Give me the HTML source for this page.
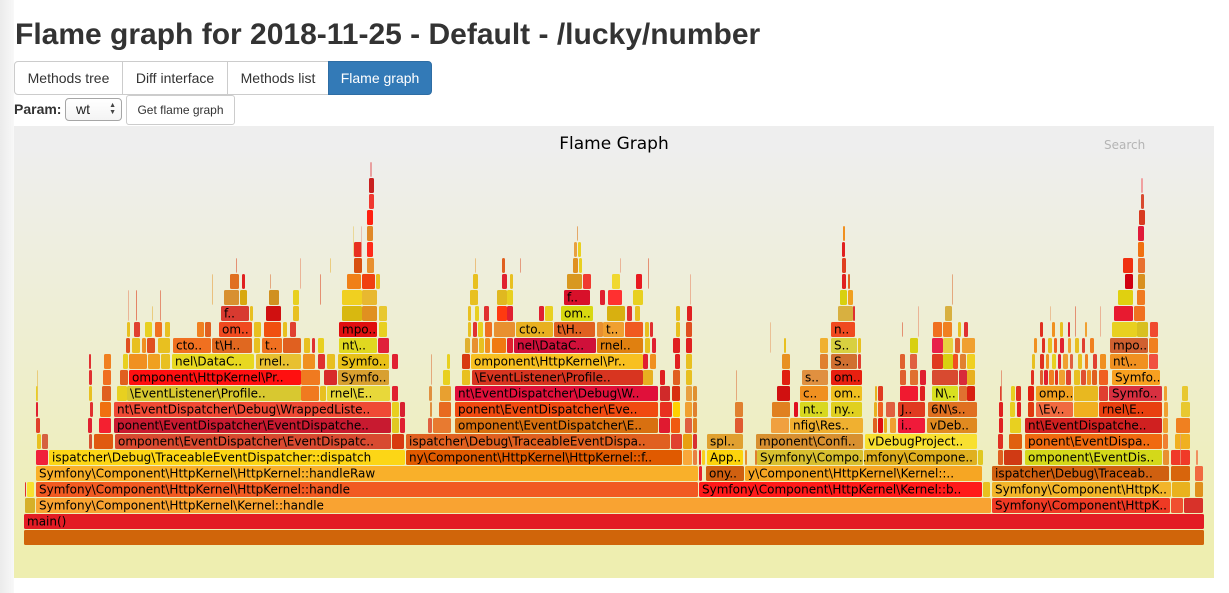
<!DOCTYPE html>
<html><head><meta charset="utf-8">
<style>
html,body{margin:0;padding:0;background:#fff;}
body{width:1229px;height:593px;overflow:hidden;position:relative;font-family:"Liberation Sans",Arial,sans-serif;color:#333;}
.abs{position:absolute;}
h1{position:absolute;left:15px;top:20px;margin:0;font-size:30px;line-height:30px;font-weight:bold;color:#333;white-space:nowrap;}
.btn{position:absolute;box-sizing:border-box;border:1px solid #ccc;background:#fff;font-size:14px;color:#333;display:flex;align-items:center;justify-content:center;white-space:nowrap;}
svg rect{rx:1.5px;ry:1.5px;}
svg text{font-family:"DejaVu Sans",Verdana,sans-serif;font-size:12px;fill:#000;}
.t rect{opacity:.75}
</style></head><body>
<div class="abs" style="left:0;top:0;width:14px;height:593px;background:linear-gradient(to right,#ebebeb,#f4f4f4 10px,#f8f8f8);"></div>
<svg class="abs" style="left:0;top:0" width="1229" height="593" viewBox="0 0 1229 593">
<defs><linearGradient id="bg" x1="0" y1="0" x2="0" y2="1"><stop offset="0.05" stop-color="#eeeeee"/><stop offset="0.95" stop-color="#eeeeb0"/></linearGradient></defs>
<rect x="14" y="126" width="1200" height="452" fill="url(#bg)" style="rx:0;ry:0"/>
<text x="614" y="149" text-anchor="middle" style="font-size:17px">Flame Graph</text>
<text x="1104" y="149" style="fill:#b4b4b4">Search</text>
<g>
<!-- row 0 -->
<rect x="24" y="530" width="1180" height="15" fill="#d0650a"/>
<!-- row 1 -->
<rect x="24" y="514" width="1180" height="15" fill="#e31c24"/>
<!-- row 2 -->
<rect x="25" y="498" width="10" height="15" fill="#d6b028"/>
<rect x="36" y="498" width="955" height="15" fill="#f9a332"/>
<rect x="992" y="498" width="178" height="15" fill="#ef3a24"/>
<rect x="1171" y="498" width="12" height="15" fill="#f05030"/>
<rect x="1184" y="498" width="19" height="15" fill="#d8322a"/>
<!-- row 3 -->
<rect x="25" y="482" width="1" height="15" fill="#e03030"/>
<rect x="27" y="482" width="7" height="15" fill="#f8e030"/>
<rect x="36" y="482" width="662" height="15" fill="#f15a22"/>
<rect x="699" y="482" width="283" height="15" fill="#ff1a1a"/>
<rect x="983" y="482" width="7" height="15" fill="#e8c020"/>
<rect x="992" y="482" width="179" height="15" fill="#f2b52a"/>
<rect x="1172" y="482" width="18" height="15" fill="#e9b21e"/>
<rect x="1195" y="482" width="8" height="15" fill="#e0901c"/>
<!-- row 4 -->
<rect x="36" y="466" width="662" height="15" fill="#f9b02a"/>
<rect x="699" y="466" width="3" height="15" fill="#e82030"/>
<rect x="706" y="466" width="38" height="15" fill="#d06010"/>
<rect x="745" y="466" width="237" height="15" fill="#f6a623"/>
<rect x="992" y="466" width="177" height="15" fill="#d06010"/>
<rect x="1171" y="466" width="19" height="15" fill="#d8650c"/>
<rect x="1195" y="466" width="8" height="15" fill="#f06a40"/>
<!-- row 5 -->
<rect x="36" y="450" width="12" height="15" fill="#f0203a"/>
<rect x="49" y="450" width="356" height="15" fill="#fcd616"/>
<rect x="406" y="450" width="276" height="15" fill="#e05a00"/>
<rect x="683" y="450" width="9" height="15" fill="#f9a83a"/>
<rect x="693" y="450" width="4" height="15" fill="#e88040"/>
<rect x="699" y="450" width="2" height="15" fill="#e82030"/>
<rect x="702" y="450" width="3" height="15" fill="#f8d020"/>
<rect x="707" y="450" width="36" height="15" fill="#fcd40c"/>
<rect x="745" y="450" width="2" height="15" fill="#e89030"/>
<rect x="755" y="450" width="2" height="15" fill="#e08030"/>
<rect x="757" y="450" width="106" height="15" fill="#d8c030"/>
<rect x="864" y="450" width="113" height="15" fill="#e0b020"/>
<rect x="978" y="450" width="5" height="15" fill="#e0c820"/>
<rect x="998" y="450" width="5" height="15" fill="#e06020"/>
<rect x="1004" y="450" width="18" height="15" fill="#d03a14"/>
<rect x="1025" y="450" width="137" height="15" fill="#d4d81a"/>
<rect x="1163" y="450" width="6" height="15" fill="#e89030"/>
<rect x="1171" y="450" width="19" height="15" fill="#f03a28"/>
<rect x="1196" y="450" width="2" height="15" fill="#f09060"/>
<!-- row 6 -->
<rect x="37" y="434" width="4" height="15" fill="#e8c020"/>
<rect x="42" y="434" width="6" height="15" fill="#d66040"/>
<rect x="89" y="434" width="3" height="15" fill="#d65030"/>
<rect x="94" y="434" width="19" height="15" fill="#e05a10"/>
<rect x="115" y="434" width="276" height="15" fill="#d84a30"/>
<rect x="392" y="434" width="12" height="15" fill="#d83a10"/>
<rect x="406" y="434" width="264" height="15" fill="#e06020"/>
<rect x="671" y="434" width="11" height="15" fill="#e04030"/>
<rect x="683" y="434" width="9" height="15" fill="#e8a010"/>
<rect x="693" y="434" width="4" height="15" fill="#d83030"/>
<rect x="707" y="434" width="36" height="15" fill="#e0a030"/>
<rect x="756" y="434" width="107" height="15" fill="#d89030"/>
<rect x="865" y="434" width="112" height="15" fill="#f8e030"/>
<rect x="998" y="434" width="5" height="15" fill="#e03020"/>
<rect x="1009" y="434" width="13" height="15" fill="#e06010"/>
<rect x="1025" y="434" width="137" height="15" fill="#f06a10"/>
<rect x="1163" y="434" width="5" height="15" fill="#f08030"/>
<rect x="1175" y="434" width="15" height="15" fill="#f0b020"/>
<!-- row 7 -->
<rect x="36" y="418" width="4" height="15" fill="#e0402a"/>
<rect x="88" y="418" width="4" height="15" fill="#e02030"/>
<rect x="99" y="418" width="12" height="15" fill="#f42030"/>
<rect x="114" y="418" width="277" height="15" fill="#c81a30"/>
<rect x="392" y="418" width="7" height="15" fill="#e0c820"/>
<rect x="400" y="418" width="5" height="15" fill="#e02030"/>
<rect x="428" y="418" width="4" height="15" fill="#e06040"/>
<rect x="433" y="418" width="18" height="15" fill="#e87a30"/>
<rect x="455" y="418" width="203" height="15" fill="#d87010"/>
<rect x="659" y="418" width="11" height="15" fill="#e01a30"/>
<rect x="671" y="418" width="9" height="15" fill="#f05a10"/>
<rect x="685" y="418" width="7" height="15" fill="#e06040"/>
<rect x="693" y="418" width="4" height="15" fill="#e08020"/>
<rect x="735" y="418" width="8" height="15" fill="#e05a30"/>
<rect x="771" y="418" width="18" height="15" fill="#f0a040"/>
<rect x="790" y="418" width="73" height="15" fill="#f0b030"/>
<rect x="873" y="418" width="4" height="15" fill="#e06020"/>
<rect x="878" y="418" width="5" height="15" fill="#e01010"/>
<rect x="884" y="418" width="3" height="15" fill="#e8b020"/>
<rect x="890" y="418" width="6" height="15" fill="#f0a030"/>
<rect x="898" y="418" width="27" height="15" fill="#f01a3a"/>
<rect x="927" y="418" width="50" height="15" fill="#e08a20"/>
<rect x="999" y="418" width="4" height="15" fill="#e02020"/>
<rect x="1010" y="418" width="11" height="15" fill="#e8d020"/>
<rect x="1025" y="418" width="137" height="15" fill="#d02020"/>
<rect x="1163" y="418" width="5" height="15" fill="#f0a030"/>
<rect x="1176" y="418" width="14" height="15" fill="#f08020"/>
<!-- row 8 -->
<rect x="36" y="402" width="2" height="15" fill="#e02030"/>
<rect x="90" y="402" width="3" height="15" fill="#e03030"/>
<rect x="100" y="402" width="11" height="15" fill="#f07010"/>
<rect x="114" y="402" width="277" height="15" fill="#ef4a35"/>
<rect x="392" y="402" width="7" height="15" fill="#e8d020"/>
<rect x="400" y="402" width="5" height="15" fill="#d82030"/>
<rect x="430" y="402" width="2" height="15" fill="#e09040"/>
<rect x="439" y="402" width="12" height="15" fill="#e86a20"/>
<rect x="455" y="402" width="203" height="15" fill="#f04a10"/>
<rect x="660" y="402" width="12" height="15" fill="#e83020"/>
<rect x="673" y="402" width="7" height="15" fill="#ffd000"/>
<rect x="685" y="402" width="7" height="15" fill="#f0a030"/>
<rect x="693" y="402" width="4" height="15" fill="#e08030"/>
<rect x="735" y="402" width="8" height="15" fill="#e08030"/>
<rect x="772" y="402" width="18" height="15" fill="#e08020"/>
<rect x="794" y="402" width="4" height="15" fill="#e01020"/>
<rect x="800" y="402" width="28" height="15" fill="#d8d820"/>
<rect x="831" y="402" width="31" height="15" fill="#e0d020"/>
<rect x="874" y="402" width="3" height="15" fill="#e8b020"/>
<rect x="878" y="402" width="5" height="15" fill="#f06020"/>
<rect x="886" y="402" width="9" height="15" fill="#e06040"/>
<rect x="898" y="402" width="27" height="15" fill="#e03a20"/>
<rect x="928" y="402" width="49" height="15" fill="#e07020"/>
<rect x="999" y="402" width="4" height="15" fill="#e02020"/>
<rect x="1010" y="402" width="5" height="15" fill="#e8d020"/>
<rect x="1017" y="402" width="4" height="15" fill="#e02020"/>
<rect x="1028" y="402" width="6" height="15" fill="#e03a10"/>
<rect x="1036" y="402" width="37" height="15" fill="#f06a40"/>
<rect x="1074" y="402" width="24" height="15" fill="#f0b020"/>
<rect x="1099" y="402" width="63" height="15" fill="#e84010"/>
<rect x="1164" y="402" width="4" height="15" fill="#f0a030"/>
<rect x="1181" y="402" width="9" height="15" fill="#e8c830"/>
<!-- row 9 -->
<rect x="36" y="386" width="2" height="15" fill="#e8d020"/>
<rect x="89" y="386" width="3" height="15" fill="#e8c020"/>
<rect x="102" y="386" width="9" height="15" fill="#e06020"/>
<rect x="117" y="386" width="10" height="15" fill="#e8d020"/>
<rect x="127" y="386" width="174" height="15" fill="#d8c830"/>
<rect x="301" y="386" width="18" height="15" fill="#f07a20"/>
<rect x="320" y="386" width="6" height="15" fill="#e8c020"/>
<rect x="327" y="386" width="63" height="15" fill="#e8d83a"/>
<rect x="392" y="386" width="6" height="15" fill="#e02030"/>
<rect x="429" y="386" width="3" height="15" fill="#e09040"/>
<rect x="440" y="386" width="11" height="15" fill="#e8a030"/>
<rect x="455" y="386" width="203" height="15" fill="#e0103a"/>
<rect x="660" y="386" width="10" height="15" fill="#d02a2a"/>
<rect x="672" y="386" width="8" height="15" fill="#d83010"/>
<rect x="686" y="386" width="6" height="15" fill="#e8a040"/>
<rect x="693" y="386" width="4" height="15" fill="#e09030"/>
<rect x="777" y="386" width="13" height="15" fill="#d01010"/>
<rect x="800" y="386" width="28" height="15" fill="#f09020"/>
<rect x="831" y="386" width="31" height="15" fill="#f0c020"/>
<rect x="875" y="386" width="2" height="15" fill="#e8b020"/>
<rect x="878" y="386" width="5" height="15" fill="#e03a20"/>
<rect x="900" y="386" width="18" height="15" fill="#f01a30"/>
<rect x="920" y="386" width="5" height="15" fill="#e02020"/>
<rect x="932" y="386" width="26" height="15" fill="#d8e020"/>
<rect x="959" y="386" width="8" height="15" fill="#e07030"/>
<rect x="967" y="386" width="8" height="15" fill="#d82010"/>
<rect x="1000" y="386" width="2" height="15" fill="#e04030"/>
<rect x="1011" y="386" width="4" height="15" fill="#e8d020"/>
<rect x="1016" y="386" width="5" height="15" fill="#e03020"/>
<rect x="1028" y="386" width="6" height="15" fill="#e02010"/>
<rect x="1036" y="386" width="37" height="15" fill="#f0a020"/>
<rect x="1074" y="386" width="24" height="15" fill="#e8b820"/>
<rect x="1099" y="386" width="9" height="15" fill="#e04030"/>
<rect x="1109" y="386" width="53" height="15" fill="#d83040"/>
<rect x="1164" y="386" width="3" height="15" fill="#f0a030"/>
<rect x="1182" y="386" width="6" height="15" fill="#e8c830"/>
<!-- row 10 -->
<rect x="89" y="370" width="3" height="15" fill="#e03030"/>
<rect x="103" y="370" width="8" height="15" fill="#f07020"/>
<rect x="120" y="370" width="8" height="15" fill="#e06020"/>
<rect x="129" y="370" width="172" height="15" fill="#ff1010"/>
<rect x="301" y="370" width="19" height="15" fill="#f07a20"/>
<rect x="324" y="370" width="13" height="15" fill="#d82a2a"/>
<rect x="338" y="370" width="51" height="15" fill="#d8a030"/>
<rect x="443" y="370" width="7" height="15" fill="#e8d020"/>
<rect x="462" y="370" width="8" height="15" fill="#e8c020"/>
<rect x="472" y="370" width="171" height="15" fill="#d83520"/>
<rect x="643" y="370" width="10" height="15" fill="#e8b020"/>
<rect x="660" y="370" width="5" height="15" fill="#e02020"/>
<rect x="673" y="370" width="7" height="15" fill="#e06020"/>
<rect x="686" y="370" width="6" height="15" fill="#e8c020"/>
<rect x="782" y="370" width="8" height="15" fill="#e02010"/>
<rect x="802" y="370" width="26" height="15" fill="#e09040"/>
<rect x="831" y="370" width="31" height="15" fill="#e82010"/>
<rect x="900" y="370" width="6" height="15" fill="#e06030"/>
<rect x="910" y="370" width="8" height="15" fill="#e07030"/>
<rect x="920" y="370" width="6" height="15" fill="#e02030"/>
<rect x="932" y="370" width="26" height="15" fill="#d84a30"/>
<rect x="959" y="370" width="8" height="15" fill="#d82a3a"/>
<rect x="967" y="370" width="8" height="15" fill="#e8b020"/>
<rect x="1031" y="370" width="3" height="15" fill="#e03020"/>
<rect x="1040" y="370" width="3" height="15" fill="#e06030"/>
<rect x="1044" y="370" width="4" height="15" fill="#e02030"/>
<rect x="1049" y="370" width="5" height="15" fill="#f08020"/>
<rect x="1055" y="370" width="3" height="15" fill="#e03020"/>
<rect x="1059" y="370" width="6" height="15" fill="#f0a030"/>
<rect x="1066" y="370" width="5" height="15" fill="#e04030"/>
<rect x="1074" y="370" width="6" height="15" fill="#e8c020"/>
<rect x="1081" y="370" width="5" height="15" fill="#e05030"/>
<rect x="1087" y="370" width="4" height="15" fill="#f09020"/>
<rect x="1092" y="370" width="5" height="15" fill="#e06020"/>
<rect x="1099" y="370" width="9" height="15" fill="#f06020"/>
<rect x="1112" y="370" width="48" height="15" fill="#f8a020"/>
<!-- row 11 -->
<rect x="89" y="354" width="2" height="15" fill="#e03030"/>
<rect x="104" y="354" width="7" height="15" fill="#f08020"/>
<rect x="123" y="354" width="5" height="15" fill="#e8d020"/>
<rect x="129" y="354" width="18" height="15" fill="#f09020"/>
<rect x="148" y="354" width="12" height="15" fill="#f0a020"/>
<rect x="161" y="354" width="9" height="15" fill="#e8c020"/>
<rect x="172" y="354" width="82" height="15" fill="#e8d820"/>
<rect x="256" y="354" width="45" height="15" fill="#e8c030"/>
<rect x="303" y="354" width="12" height="15" fill="#f09020"/>
<rect x="318" y="354" width="7" height="15" fill="#e03030"/>
<rect x="327" y="354" width="8" height="15" fill="#e8c020"/>
<rect x="338" y="354" width="51" height="15" fill="#e8c018"/>
<rect x="392" y="354" width="6" height="15" fill="#e02030"/>
<rect x="447" y="354" width="3" height="15" fill="#e8d020"/>
<rect x="462" y="354" width="8" height="15" fill="#d83a10"/>
<rect x="471" y="354" width="172" height="15" fill="#f8c020"/>
<rect x="643" y="354" width="5" height="15" fill="#e02030"/>
<rect x="650" y="354" width="6" height="15" fill="#f09020"/>
<rect x="675" y="354" width="5" height="15" fill="#e02020"/>
<rect x="686" y="354" width="6" height="15" fill="#e8c020"/>
<rect x="782" y="354" width="8" height="15" fill="#e89020"/>
<rect x="820" y="354" width="8" height="15" fill="#e08030"/>
<rect x="831" y="354" width="26" height="15" fill="#d07030"/>
<rect x="858" y="354" width="3" height="15" fill="#e04030"/>
<rect x="900" y="354" width="5" height="15" fill="#e06030"/>
<rect x="910" y="354" width="7" height="15" fill="#e06040"/>
<rect x="932" y="354" width="11" height="15" fill="#e03a20"/>
<rect x="943" y="354" width="10" height="15" fill="#d8d010"/>
<rect x="953" y="354" width="5" height="15" fill="#f05020"/>
<rect x="960" y="354" width="6" height="15" fill="#e08030"/>
<rect x="967" y="354" width="8" height="15" fill="#f0d020"/>
<rect x="1032" y="354" width="3" height="15" fill="#e8c020"/>
<rect x="1040" y="354" width="4" height="15" fill="#e03020"/>
<rect x="1046" y="354" width="3" height="15" fill="#f09020"/>
<rect x="1052" y="354" width="4" height="15" fill="#e8d020"/>
<rect x="1058" y="354" width="3" height="15" fill="#e02030"/>
<rect x="1063" y="354" width="5" height="15" fill="#f0a030"/>
<rect x="1070" y="354" width="3" height="15" fill="#e06040"/>
<rect x="1078" y="354" width="4" height="15" fill="#e8c020"/>
<rect x="1085" y="354" width="3" height="15" fill="#f08020"/>
<rect x="1093" y="354" width="4" height="15" fill="#e04030"/>
<rect x="1100" y="354" width="6" height="15" fill="#f09020"/>
<rect x="1110" y="354" width="38" height="15" fill="#f09020"/>
<rect x="1149" y="354" width="9" height="15" fill="#f05040"/>
<!-- row 12 -->
<rect x="126" y="338" width="4" height="15" fill="#e05020"/>
<rect x="132" y="338" width="8" height="15" fill="#e8c020"/>
<rect x="142" y="338" width="4" height="15" fill="#f09020"/>
<rect x="147" y="338" width="8" height="15" fill="#e05020"/>
<rect x="158" y="338" width="12" height="15" fill="#e8c020"/>
<rect x="173" y="338" width="38" height="15" fill="#f07020"/>
<rect x="212" y="338" width="40" height="15" fill="#e06820"/>
<rect x="254" y="338" width="6" height="15" fill="#e8c020"/>
<rect x="262" y="338" width="20" height="15" fill="#f07020"/>
<rect x="283" y="338" width="18" height="15" fill="#e06020"/>
<rect x="304" y="338" width="6" height="15" fill="#e8c020"/>
<rect x="312" y="338" width="3" height="15" fill="#e03030"/>
<rect x="318" y="338" width="6" height="15" fill="#e8d020"/>
<rect x="339" y="338" width="38" height="15" fill="#e0d820"/>
<rect x="378" y="338" width="11" height="15" fill="#e0203a"/>
<rect x="465" y="338" width="5" height="15" fill="#e0b030"/>
<rect x="472" y="338" width="6" height="15" fill="#e89030"/>
<rect x="479" y="338" width="5" height="15" fill="#e8c020"/>
<rect x="485" y="338" width="5" height="15" fill="#f09020"/>
<rect x="492" y="338" width="14" height="15" fill="#f07a10"/>
<rect x="507" y="338" width="6" height="15" fill="#e02030"/>
<rect x="514" y="338" width="82" height="15" fill="#d0103a"/>
<rect x="597" y="338" width="46" height="15" fill="#e08010"/>
<rect x="645" y="338" width="5" height="15" fill="#e8c020"/>
<rect x="652" y="338" width="4" height="15" fill="#e02030"/>
<rect x="673" y="338" width="7" height="15" fill="#e02020"/>
<rect x="686" y="338" width="6" height="15" fill="#e02020"/>
<rect x="784" y="338" width="2" height="15" fill="#e8c020"/>
<rect x="820" y="338" width="8" height="15" fill="#f0b030"/>
<rect x="831" y="338" width="26" height="15" fill="#d8d040"/>
<rect x="858" y="338" width="3" height="15" fill="#e8c020"/>
<rect x="910" y="338" width="8" height="15" fill="#d8d010"/>
<rect x="932" y="338" width="11" height="15" fill="#e8204a"/>
<rect x="943" y="338" width="10" height="15" fill="#e8d040"/>
<rect x="955" y="338" width="5" height="15" fill="#e06030"/>
<rect x="962" y="338" width="13" height="15" fill="#f0a030"/>
<rect x="1034" y="338" width="3" height="15" fill="#f09020"/>
<rect x="1042" y="338" width="3" height="15" fill="#e03020"/>
<rect x="1048" y="338" width="4" height="15" fill="#e8c020"/>
<rect x="1054" y="338" width="3" height="15" fill="#f06020"/>
<rect x="1060" y="338" width="4" height="15" fill="#e02030"/>
<rect x="1068" y="338" width="3" height="15" fill="#f0a030"/>
<rect x="1075" y="338" width="4" height="15" fill="#e8c020"/>
<rect x="1082" y="338" width="3" height="15" fill="#e04030"/>
<rect x="1090" y="338" width="4" height="15" fill="#f08020"/>
<rect x="1110" y="338" width="38" height="15" fill="#d06030"/>
<rect x="1149" y="338" width="9" height="15" fill="#f08020"/>
<!-- row 13 -->
<rect x="127" y="322" width="3" height="15" fill="#e8c020"/>
<rect x="134" y="322" width="6" height="15" fill="#e04030"/>
<rect x="145" y="322" width="7" height="15" fill="#e8d020"/>
<rect x="155" y="322" width="7" height="15" fill="#f07020"/>
<rect x="165" y="322" width="5" height="15" fill="#e8c020"/>
<rect x="197" y="322" width="7" height="15" fill="#f08020"/>
<rect x="205" y="322" width="6" height="15" fill="#e06020"/>
<rect x="219" y="322" width="33" height="15" fill="#f04a20"/>
<rect x="254" y="322" width="7" height="15" fill="#e8c020"/>
<rect x="264" y="322" width="17" height="15" fill="#f05010"/>
<rect x="283" y="322" width="4" height="15" fill="#e8c020"/>
<rect x="290" y="322" width="6" height="15" fill="#e04030"/>
<rect x="339" y="322" width="38" height="15" fill="#e00e10"/>
<rect x="379" y="322" width="8" height="15" fill="#e8d020"/>
<rect x="468" y="322" width="3" height="15" fill="#e8c020"/>
<rect x="473" y="322" width="4" height="15" fill="#e03030"/>
<rect x="478" y="322" width="5" height="15" fill="#e8d020"/>
<rect x="485" y="322" width="7" height="15" fill="#f07020"/>
<rect x="494" y="322" width="21" height="15" fill="#e89030"/>
<rect x="516" y="322" width="37" height="15" fill="#e8b020"/>
<rect x="554" y="322" width="41" height="15" fill="#e06020"/>
<rect x="597" y="322" width="6" height="15" fill="#e89030"/>
<rect x="603" y="322" width="21" height="15" fill="#f0a030"/>
<rect x="625" y="322" width="18" height="15" fill="#f05a20"/>
<rect x="645" y="322" width="4" height="15" fill="#e8c020"/>
<rect x="650" y="322" width="3" height="15" fill="#e03030"/>
<rect x="676" y="322" width="4" height="15" fill="#e8c020"/>
<rect x="686" y="322" width="6" height="15" fill="#e05020"/>
<rect x="831" y="322" width="24" height="15" fill="#f04a20"/>
<rect x="933" y="322" width="9" height="15" fill="#f07020"/>
<rect x="943" y="322" width="9" height="15" fill="#f08020"/>
<rect x="958" y="322" width="3" height="15" fill="#e8c020"/>
<rect x="964" y="322" width="4" height="15" fill="#e03030"/>
<rect x="1040" y="322" width="3" height="15" fill="#e03020"/>
<rect x="1052" y="322" width="3" height="15" fill="#f09020"/>
<rect x="1060" y="322" width="3" height="15" fill="#e8c020"/>
<rect x="1068" y="322" width="2" height="15" fill="#e02030"/>
<rect x="1085" y="322" width="2" height="15" fill="#f0a030"/>
<rect x="1112" y="322" width="25" height="15" fill="#e8d020"/>
<rect x="1137" y="322" width="11" height="15" fill="#d8c020"/>
<rect x="1150" y="322" width="8" height="15" fill="#f04a30"/>
<!-- row 14 -->
<rect x="221" y="306" width="28" height="15" fill="#d83a30"/>
<rect x="250" y="306" width="3" height="15" fill="#e8c020"/>
<rect x="266" y="306" width="15" height="15" fill="#d01010"/>
<rect x="293" y="306" width="6" height="15" fill="#e8c020"/>
<rect x="342" y="306" width="20" height="15" fill="#d8b810"/>
<rect x="362" y="306" width="15" height="15" fill="#e09020"/>
<rect x="379" y="306" width="8" height="15" fill="#e8c830"/>
<rect x="468" y="306" width="3" height="15" fill="#e8c020"/>
<rect x="475" y="306" width="4" height="15" fill="#e8d020"/>
<rect x="484" y="306" width="5" height="15" fill="#e03030"/>
<rect x="497" y="306" width="10" height="15" fill="#ff3a10"/>
<rect x="507" y="306" width="6" height="15" fill="#e02030"/>
<rect x="539" y="306" width="5" height="15" fill="#e02030"/>
<rect x="545" y="306" width="8" height="15" fill="#e8d020"/>
<rect x="561" y="306" width="32" height="15" fill="#d8d810"/>
<rect x="607" y="306" width="18" height="15" fill="#d8b010"/>
<rect x="627" y="306" width="5" height="15" fill="#e03030"/>
<rect x="635" y="306" width="5" height="15" fill="#e8c020"/>
<rect x="676" y="306" width="4" height="15" fill="#e8c020"/>
<rect x="687" y="306" width="5" height="15" fill="#e02020"/>
<rect x="838" y="306" width="15" height="15" fill="#d8b040"/>
<rect x="853" y="306" width="2" height="15" fill="#e03030"/>
<rect x="945" y="306" width="7" height="15" fill="#d8b040"/>
<rect x="1114" y="306" width="19" height="15" fill="#e81a30"/>
<rect x="1134" y="306" width="11" height="15" fill="#f07020"/>
<!-- row 15 -->
<rect x="224" y="290" width="15" height="15" fill="#d89030"/>
<rect x="240" y="290" width="7" height="15" fill="#d8a810"/>
<rect x="269" y="290" width="10" height="15" fill="#d09020"/>
<rect x="293" y="290" width="6" height="15" fill="#e8d020"/>
<rect x="342" y="290" width="20" height="15" fill="#f0d020"/>
<rect x="362" y="290" width="15" height="15" fill="#e8b830"/>
<rect x="470" y="290" width="8" height="15" fill="#e8c020"/>
<rect x="497" y="290" width="10" height="15" fill="#e0b820"/>
<rect x="507" y="290" width="6" height="15" fill="#e8d020"/>
<rect x="564" y="290" width="26" height="15" fill="#d8102a"/>
<rect x="600" y="290" width="5" height="15" fill="#e02030"/>
<rect x="608" y="290" width="14" height="15" fill="#ff3030"/>
<rect x="633" y="290" width="10" height="15" fill="#e8d020"/>
<rect x="840" y="290" width="7" height="15" fill="#d8d010"/>
<rect x="848" y="290" width="5" height="15" fill="#f0a020"/>
<rect x="1118" y="290" width="15" height="15" fill="#e0d010"/>
<rect x="1137" y="290" width="8" height="15" fill="#f07a20"/>
<!-- row 16 -->
<rect x="230" y="274" width="9" height="15" fill="#e07020"/>
<rect x="242" y="274" width="3" height="15" fill="#e02020"/>
<rect x="347" y="274" width="14" height="15" fill="#f08018"/>
<rect x="362" y="274" width="13" height="15" fill="#f04010"/>
<rect x="376" y="274" width="4" height="15" fill="#e8c020"/>
<rect x="473" y="274" width="5" height="15" fill="#e8c020"/>
<rect x="502" y="274" width="5" height="15" fill="#e02030"/>
<rect x="510" y="274" width="3" height="15" fill="#e8c020"/>
<rect x="567" y="274" width="15" height="15" fill="#d89820"/>
<rect x="583" y="274" width="8" height="15" fill="#f03a30"/>
<rect x="612" y="274" width="8" height="15" fill="#f0d830"/>
<rect x="636" y="274" width="6" height="15" fill="#e81a20"/>
<rect x="842" y="274" width="4" height="15" fill="#e02020"/>
<rect x="848" y="274" width="2" height="15" fill="#e06020"/>
<rect x="1125" y="274" width="8" height="15" fill="#d00010"/>
<rect x="1138" y="274" width="7" height="15" fill="#d89020"/>
<!-- row 17 -->
<rect x="354" y="258" width="8" height="15" fill="#d85010"/>
<rect x="367" y="258" width="7" height="15" fill="#e89030"/>
<rect x="502" y="258" width="3" height="15" fill="#e06020"/>
<rect x="573" y="258" width="5" height="15" fill="#e09020"/>
<rect x="579" y="258" width="3" height="15" fill="#e8d020"/>
<rect x="842" y="258" width="4" height="15" fill="#e04020"/>
<rect x="1123" y="258" width="10" height="15" fill="#f03010"/>
<rect x="1138" y="258" width="7" height="15" fill="#e87030"/>
<!-- row 18 -->
<rect x="354" y="242" width="8" height="15" fill="#e83020"/>
<rect x="367" y="242" width="6" height="15" fill="#ff2a1a"/>
<rect x="574" y="242" width="3" height="15" fill="#e8a040"/>
<rect x="578" y="242" width="3" height="15" fill="#e8d020"/>
<rect x="842" y="242" width="3" height="15" fill="#e02020"/>
<rect x="1138" y="242" width="6" height="15" fill="#f07010"/>
<!-- row 19+ -->
<rect x="367" y="226" width="6" height="15" fill="#e08828"/>
<rect x="843" y="226" width="2" height="15" fill="#f09020"/>
<rect x="1138" y="226" width="6" height="15" fill="#e01a3a"/>
<rect x="367" y="210" width="6" height="15" fill="#ff2010"/>
<rect x="1139" y="210" width="6" height="15" fill="#d83a20"/>
<rect x="369" y="194" width="5" height="15" fill="#f03830"/>
<rect x="1141" y="194" width="3" height="15" fill="#d84a30"/>
<rect x="369" y="178" width="5" height="15" fill="#c82020"/>
<rect x="1141" y="178" width="2" height="15" fill="#f0a0a0"/>
<rect x="370" y="162" width="2" height="15" fill="#e8a0a0"/>
</g>
<g class="t">
<rect x="37" y="370" width="1" height="31" fill="#e8c060"/>
<rect x="353" y="226" width="1" height="31" fill="#e8d080"/>
<rect x="361" y="226" width="1" height="31" fill="#e8b0a0"/>
<rect x="577" y="226" width="1" height="15" fill="#e09040"/>
<rect x="431" y="354" width="1" height="31" fill="#e09060"/>
<rect x="736" y="370" width="1" height="31" fill="#e09060"/>
<rect x="128" y="290" width="1" height="31" fill="#e8a080"/>
<rect x="136" y="290" width="1" height="31" fill="#e06040"/>
<rect x="152" y="306" width="1" height="15" fill="#e8c060"/>
<rect x="160" y="290" width="1" height="31" fill="#e07050"/>
<rect x="212" y="274" width="1" height="31" fill="#e8b060"/>
<rect x="236" y="258" width="1" height="15" fill="#e07050"/>
<rect x="270" y="274" width="1" height="15" fill="#e09060"/>
<rect x="300" y="258" width="1" height="31" fill="#e8a080"/>
<rect x="320" y="274" width="1" height="31" fill="#e07050"/>
<rect x="330" y="258" width="1" height="15" fill="#e8c060"/>
<rect x="475" y="258" width="1" height="15" fill="#e8b060"/>
<rect x="520" y="258" width="1" height="15" fill="#e08060"/>
<rect x="620" y="258" width="1" height="15" fill="#e8a080"/>
<rect x="648" y="258" width="1" height="31" fill="#e07050"/>
<rect x="690" y="274" width="1" height="31" fill="#e8a080"/>
<rect x="770" y="322" width="1" height="31" fill="#e8b080"/>
<rect x="952" y="274" width="1" height="31" fill="#e09060"/>
<rect x="918" y="306" width="1" height="31" fill="#e8a080"/>
<rect x="902" y="322" width="1" height="15" fill="#e07050"/>
<rect x="1001" y="370" width="1" height="31" fill="#e08060"/>
<rect x="1050" y="306" width="1" height="15" fill="#e8b080"/>
<rect x="1075" y="306" width="1" height="31" fill="#e07050"/>
<rect x="1100" y="306" width="1" height="31" fill="#e8a080"/>
<rect x="1180" y="434" width="1" height="31" fill="#e8a080"/>
</g>
<g>
<text x="27" y="525.5">main()</text>
<text x="39" y="509.5">Symfony\Component\HttpKernel\Kernel::handle</text>
<text x="995" y="509.5">Symfony\Component\HttpK..</text>
<text x="39" y="493.5">Symfony\Component\HttpKernel\HttpKernel::handle</text>
<text x="702" y="493.5">Symfony\Component\HttpKernel\Kernel::b..</text>
<text x="995" y="493.5">Symfony\Component\HttpK..</text>
<text x="39" y="477.5">Symfony\Component\HttpKernel\HttpKernel::handleRaw</text>
<text x="709" y="477.5">ony..</text>
<text x="748" y="477.5">y\Component\HttpKernel\Kernel::..</text>
<text x="995" y="477.5">ispatcher\Debug\Traceab..</text>
<text x="52" y="461.5">ispatcher\Debug\TraceableEventDispatcher::dispatch</text>
<text x="409" y="461.5">ny\Component\HttpKernel\HttpKernel::f..</text>
<text x="710" y="461.5">App..</text>
<text x="760" y="461.5">Symfony\Compo..</text>
<text x="866" y="461.5">mfony\Compone..</text>
<text x="1028" y="461.5">omponent\EventDis..</text>
<text x="118" y="445.5">omponent\EventDispatcher\EventDispatc..</text>
<text x="409" y="445.5">ispatcher\Debug\TraceableEventDispa..</text>
<text x="710" y="445.5">spl..</text>
<text x="759" y="445.5">mponent\Confi..</text>
<text x="868" y="445.5">vDebugProject..</text>
<text x="1028" y="445.5">ponent\EventDispa..</text>
<text x="117" y="429.5">ponent\EventDispatcher\EventDispatche..</text>
<text x="458" y="429.5">omponent\EventDispatcher\E..</text>
<text x="793" y="429.5">nfig\Res..</text>
<text x="901" y="429.5">i..</text>
<text x="930" y="429.5">vDeb..</text>
<text x="1028" y="429.5">nt\EventDispatche..</text>
<text x="117" y="413.5">nt\EventDispatcher\Debug\WrappedListe..</text>
<text x="458" y="413.5">ponent\EventDispatcher\Eve..</text>
<text x="803" y="413.5">nt..</text>
<text x="834" y="413.5">ny..</text>
<text x="901" y="413.5">J..</text>
<text x="931" y="413.5">6N\s..</text>
<text x="1039" y="413.5">\Ev..</text>
<text x="1102" y="413.5">rnel\E..</text>
<text x="130" y="397.5">\EventListener\Profile..</text>
<text x="330" y="397.5">rnel\E..</text>
<text x="458" y="397.5">nt\EventDispatcher\Debug\W..</text>
<text x="803" y="397.5">c..</text>
<text x="834" y="397.5">om..</text>
<text x="935" y="397.5">N\..</text>
<text x="1039" y="397.5">omp..</text>
<text x="1112" y="397.5">Symfo..</text>
<text x="132" y="381.5">omponent\HttpKernel\Pr..</text>
<text x="341" y="381.5">Symfo..</text>
<text x="475" y="381.5">\EventListener\Profile..</text>
<text x="805" y="381.5">s..</text>
<text x="834" y="381.5">om..</text>
<text x="1115" y="381.5">Symfo..</text>
<text x="175" y="365.5">nel\DataC..</text>
<text x="259" y="365.5">rnel..</text>
<text x="341" y="365.5">Symfo..</text>
<text x="474" y="365.5">omponent\HttpKernel\Pr..</text>
<text x="834" y="365.5">S..</text>
<text x="1113" y="365.5">nt\..</text>
<text x="176" y="349.5">cto..</text>
<text x="215" y="349.5">t\H..</text>
<text x="265" y="349.5">t..</text>
<text x="342" y="349.5">nt\..</text>
<text x="517" y="349.5">nel\DataC..</text>
<text x="600" y="349.5">rnel..</text>
<text x="834" y="349.5">S..</text>
<text x="1113" y="349.5">mpo..</text>
<text x="222" y="333.5">om..</text>
<text x="342" y="333.5">mpo..</text>
<text x="519" y="333.5">cto..</text>
<text x="557" y="333.5">t\H..</text>
<text x="606" y="333.5">t..</text>
<text x="834" y="333.5">n..</text>
<text x="224" y="317.5">f..</text>
<text x="564" y="317.5">om..</text>
<text x="567" y="301.5">f..</text>
</g>
</svg>

<h1>Flame graph for 2018-11-25 - Default - /lucky/number</h1>

<div class="btn" style="left:14px;top:61px;width:109px;height:34px;border-radius:4px 0 0 4px;">Methods tree</div>
<div class="btn" style="left:122px;top:61px;width:106px;height:34px;">Diff interface</div>
<div class="btn" style="left:227px;top:61px;width:102px;height:34px;">Methods list</div>
<div class="btn" style="left:328px;top:61px;width:104px;height:34px;border-radius:0 4px 4px 0;background:#337ab7;border-color:#2e6da4;color:#fff;">Flame graph</div>

<div class="abs" style="left:14px;top:99px;font-size:14px;font-weight:bold;line-height:20px;color:#333;">Param:</div>
<div class="abs" style="left:65px;top:98px;width:57px;height:23px;box-sizing:border-box;border:1px solid #a6a6a6;border-radius:4px;background:linear-gradient(#fff,#f4f4f4);font-size:14px;line-height:21px;color:#222;">
<span style="position:absolute;left:10px;top:0;">wt</span>
<span style="position:absolute;right:5px;top:3px;font-size:7px;line-height:7px;color:#444;">▲<br>▼</span>
</div>
<div class="btn" style="left:126px;top:95px;width:109px;height:30px;border-radius:3px;font-size:12px;">Get flame graph</div>
</body></html>
